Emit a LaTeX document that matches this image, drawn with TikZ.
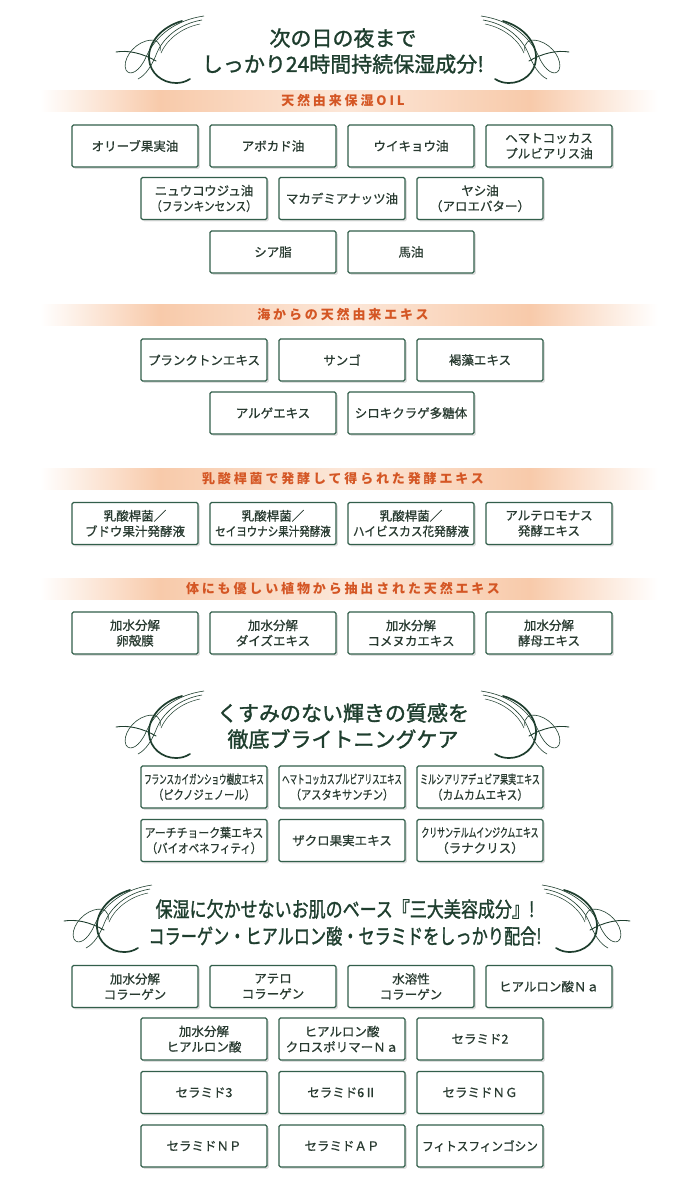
\documentclass[tikz,border=0pt]{standalone}
\usepackage{fontspec}
\usepackage{graphicx}
\setmainfont{Noto Sans CJK JP}
\usetikzlibrary{shadows}
\definecolor{boxgreen}{RGB}{50,95,75}
\definecolor{boxtext}{RGB}{40,58,48}
\definecolor{ttlgreen}{RGB}{30,62,46}
\definecolor{hdrorange}{RGB}{212,86,36}
\definecolor{bandpeach}{RGB}{248,202,170}

\newcommand{\sqz}[2]{\scalebox{#1}[1]{#2}}
\newcommand{\flourish}{%
  \draw[ttlgreen, line width=1.7pt, line cap=round] (66,6) .. controls (45,12) and (32,28) .. (33,44)
    .. controls (34,58) and (46,68) .. (60,68) .. controls (65,68) and (69,67) .. (74,64);
  \draw[ttlgreen, line width=0.6pt] (88,1) .. controls (60,5) and (40,20) .. (30,42)
    .. controls (24,56) and (14,62) .. (10,55) .. controls (6,46) and (16,30) .. (30,26)
    .. controls (40,23) and (46,28) .. (44,36);
  \draw[ttlgreen, line width=0.6pt] (86,5) .. controls (62,9) and (46,24) .. (40,40)
    .. controls (36,50) and (30,60) .. (22,64);
  \draw[ttlgreen, line width=0.5pt] (84,9) .. controls (64,13) and (50,26) .. (45,38);
  \draw[ttlgreen, line width=0.9pt, line cap=round] (0,37) .. controls (12,35) and (26,38) .. (40,46);
}
\newcommand{\hdrband}[3]{%
  \shade[left color=white, right color=bandpeach] (40,#1-10.5) rectangle (160,#1+10.5);
  \shade[left color=bandpeach, right color=bandpeach, middle color=bandpeach!45!white] (160,#1-10.5) rectangle (530,#1+10.5);
  \shade[left color=bandpeach, right color=white] (530,#1-10.5) rectangle (658,#1+10.5);
  \node[hdr] (#2) at (343,#1) {#3};
}

\begin{document}
\begin{tikzpicture}[x=1pt, y=-1pt,
  ingr/.style={draw=boxgreen, line width=1.2pt, fill=white, rounded corners=1.5pt,
    minimum width=126pt, minimum height=42pt, inner sep=0pt, align=center,
    text=boxtext, font=\fontsize{12.5pt}{15.5pt}\selectfont\addfontfeatures{FakeBold=0.8},
    drop shadow={opacity=0.25, shadow xshift=1.8pt, shadow yshift=-1.8pt}},
  ttl/.style={text=ttlgreen, font=\fontsize{21pt}{24pt}\selectfont\addfontfeatures{FakeBold=1.4}, inner sep=0pt},
  hdr/.style={text=hdrorange, font=\fontsize{13pt}{15pt}\selectfont\bfseries\addfontfeatures{LetterSpace=22}, inner sep=0pt}]
  \useasboundingbox[fill=white] (0,0) rectangle (688,1200);

  % --- title 1 ---
  \foreach \ox/\sx in {116/1, 569/-1}
    {\begin{scope}[shift={(\ox,15)}, xscale=\sx] \flourish \end{scope}}
  \node[ttl] (t1a) at (343,38) {次の日の夜まで};
  \node[ttl] (t1b) at (343,64) {しっかり24時間持続保湿成分!};

  % --- OIL ---
  \hdrband{100.5}{hoil}{天然由来保湿OIL}
  \foreach \x/\nm/\txt in {135/oil1/オリーブ果実油, 273/oil2/アボカド油, 411/oil3/ウイキョウ油,
      549/oil4/{ヘマトコッカス\\プルビアリス油}}
    \node[ingr] (\nm) at (\x,146) {\txt};
  \foreach \x/\nm/\txt in {204/oil5/{ニュウコウジュ油\\\sqz{0.85}{（フランキンセンス）}},
      342/oil6/マカデミアナッツ油, 480/oil7/{ヤシ油\\（アロエバター）}}
    \node[ingr] (\nm) at (\x,198.5) {\txt};
  \foreach \x/\nm/\txt in {273/oil8/シア脂, 411/oil9/馬油}
    \node[ingr] (\nm) at (\x,252) {\txt};

  % --- sea ---
  \hdrband{315}{hsea}{海からの天然由来エキス}
  \foreach \x/\nm/\txt in {204/sea1/プランクトンエキス, 342/sea2/サンゴ, 480/sea3/褐藻エキス}
    \node[ingr] (\nm) at (\x,360) {\txt};
  \foreach \x/\nm/\txt in {273/sea4/アルゲエキス, 411/sea5/シロキクラゲ多糖体}
    \node[ingr] (\nm) at (\x,413) {\txt};

  % --- ferment ---
  \hdrband{478.5}{hfer}{乳酸桿菌で発酵して得られた発酵エキス}
  \foreach \x/\nm/\txt in {135/fer1/{乳酸桿菌／\\ブドウ果汁発酵液},
      273/fer2/{乳酸桿菌／\\\sqz{0.84}{セイヨウナシ果汁発酵液}},
      411/fer3/{乳酸桿菌／\\\sqz{0.93}{ハイビスカス花発酵液}},
      549/fer4/{アルテロモナス\\発酵エキス}}
    \node[ingr] (\nm) at (\x,523.5) {\txt};

  % --- plant ---
  \hdrband{588.5}{hpla}{体にも優しい植物から抽出された天然エキス}
  \foreach \x/\nm/\txt in {135/pla1/{加水分解\\卵殻膜}, 273/pla2/{加水分解\\ダイズエキス},
      411/pla3/{加水分解\\コメヌカエキス}, 549/pla4/{加水分解\\酵母エキス}}
    \node[ingr] (\nm) at (\x,633) {\txt};

  % --- title 2 ---
  \foreach \ox/\sx in {116/1, 569/-1}
    {\begin{scope}[shift={(\ox,690)}, xscale=\sx] \flourish \end{scope}}
  \node[ttl] (t2a) at (343,713) {くすみのない輝きの質感を};
  \node[ttl] (t2b) at (343,739) {徹底ブライトニングケア};
  \foreach \x/\nm/\txt in {204/bri1/{\sqz{0.6}{フランスカイガンショウ樹皮エキス}\\\sqz{0.82}{（ピクノジェノール）}},
      342/bri2/{\sqz{0.6}{ヘマトコッカスプルビアリスエキス}\\\sqz{0.82}{（アスタキサンチン）}},
      480/bri3/{\sqz{0.64}{ミルシアリアデュビア果実エキス}\\\sqz{0.86}{（カムカムエキス）}}}
    \node[ingr] (\nm) at (\x,787) {\txt};
  \foreach \x/\nm/\txt in {204/bri4/{\sqz{0.87}{アーチチョーク葉エキス}\\\sqz{0.84}{（バイオベネフィティ）}},
      342/bri5/ザクロ果実エキス,
      480/bri6/{\sqz{0.63}{クリサンテルムインジクムエキス}\\（ラナクリス）}}
    \node[ingr] (\nm) at (\x,840.5) {\txt};

  % --- title 3 ---
  \foreach \ox/\sx in {64/1, 630/-1}
    {\begin{scope}[shift={(\ox,884)}, xscale=\sx] \flourish \end{scope}}
  \node[ttl] (t3a) at (345,909) {\sqz{0.81}{保湿に欠かせないお肌のベース『三大美容成分』!}};
  \node[ttl] (t3b) at (345,936) {\sqz{0.77}{コラーゲン・ヒアルロン酸・セラミドをしっかり配合!}};
  \foreach \x/\nm/\txt in {135/tri1/{加水分解\\コラーゲン}, 273/tri2/{アテロ\\コラーゲン},
      411/tri3/{水溶性\\コラーゲン}, 549/tri4/ヒアルロン酸Ｎａ}
    \node[ingr] (\nm) at (\x,986.5) {\txt};
  \foreach \x/\nm/\txt in {204/tri5/{加水分解\\ヒアルロン酸}, 342/tri6/{ヒアルロン酸\\クロスポリマーＮａ},
      480/tri7/セラミド2}
    \node[ingr] (\nm) at (\x,1039) {\txt};
  \foreach \x/\nm/\txt in {204/tri8/セラミド3, 342/tri9/セラミド6Ⅱ, 480/tri10/セラミドＮＧ}
    \node[ingr] (\nm) at (\x,1092.5) {\txt};
  \foreach \x/\nm/\txt in {204/tri11/セラミドＮＰ, 342/tri12/セラミドＡＰ,
      480/tri13/\sqz{0.93}{フィトスフィンゴシン}}
    \node[ingr] (\nm) at (\x,1146) {\txt};
\end{tikzpicture}
\end{document}
